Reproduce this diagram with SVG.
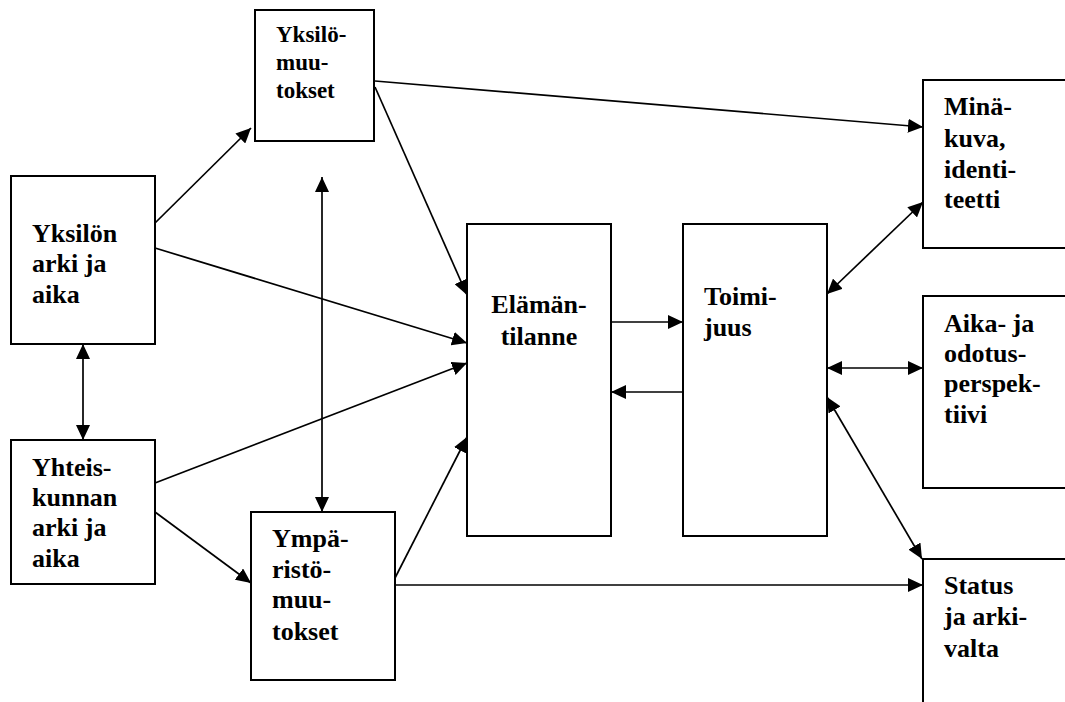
<svg xmlns="http://www.w3.org/2000/svg" width="1065" height="702" viewBox="0 0 1065 702">
<style>
.box{fill:#fff;stroke:#000;stroke-width:2}
.t{font-family:"Liberation Serif","Times New Roman",serif;font-weight:bold;font-size:26px;fill:#000}
.ts{font-size:23px}
.c{stroke:#000;stroke-width:1.7;fill:none}
.a{marker-end:url(#ah)}
.d{marker-start:url(#ah);marker-end:url(#ah)}
</style>
<defs>
<marker id="ah" viewBox="0 0 15 14" refX="15" refY="7" markerWidth="15" markerHeight="14" markerUnits="userSpaceOnUse" orient="auto-start-reverse">
<path d="M0,0 L15,7 L0,14 z" fill="#000"/>
</marker>
</defs>
<rect width="1065" height="702" fill="#fff"/>
<g id="yksilomuutokset">
<rect class="box" x="255" y="10" width="119" height="131"/>
<text class="t ts" x="276"><tspan x="276" y="42">Yksilö-</tspan><tspan x="276" y="70">muu-</tspan><tspan x="276" y="98">tokset</tspan></text>
</g>
<g id="yksilon">
<rect class="box" x="11" y="176" width="144" height="168"/>
<text class="t"><tspan x="32" y="242">Yksilön</tspan><tspan x="32" y="272">arki ja</tspan><tspan x="32" y="303">aika</tspan></text>
</g>
<g id="yhteiskunnan">
<rect class="box" x="11" y="440" width="144" height="144"/>
<text class="t"><tspan x="32" y="476">Yhteis-</tspan><tspan x="32" y="506">kunnan</tspan><tspan x="32" y="536">arki ja</tspan><tspan x="32" y="567">aika</tspan></text>
</g>
<g id="ymparisto">
<rect class="box" x="251" y="512" width="144" height="168"/>
<text class="t"><tspan x="272" y="547">Ympä-</tspan><tspan x="272" y="578">ristö-</tspan><tspan x="272" y="608">muu-</tspan><tspan x="272" y="640">tokset</tspan></text>
</g>
<g id="elamantilanne">
<rect class="box" x="467" y="224" width="144" height="312"/>
<text class="t" text-anchor="middle"><tspan x="539" y="313">Elämän-</tspan><tspan x="539" y="345">tilanne</tspan></text>
</g>
<g id="toimijuus">
<rect class="box" x="683" y="224" width="144" height="312"/>
<text class="t"><tspan x="704" y="305">Toimi-</tspan><tspan x="704" y="336">juus</tspan></text>
</g>
<g id="minakuva">
<path class="box" d="M1066,80 H923 V248 H1066"/>
<text class="t"><tspan x="944" y="115">Minä-</tspan><tspan x="944" y="147">kuva,</tspan><tspan x="944" y="178">identi-</tspan><tspan x="944" y="208">teetti</tspan></text>
</g>
<g id="aika">
<path class="box" d="M1066,296 H923 V488 H1066"/>
<text class="t"><tspan x="944" y="332">Aika- ja</tspan><tspan x="944" y="362">odotus-</tspan><tspan x="944" y="392">perspek-</tspan><tspan x="944" y="423">tiivi</tspan></text>
</g>
<g id="status">
<path class="box" d="M1066,559 H923 V703"/>
<text class="t"><tspan x="944" y="594">Status</tspan><tspan x="944" y="625">ja arki-</tspan><tspan x="944" y="657">valta</tspan></text>
</g>
<g id="connectors">
<line class="c a" x1="155" y1="223" x2="251" y2="128"/>
<line class="c a" x1="155" y1="248" x2="467" y2="343"/>
<line class="c a" x1="375" y1="87" x2="467" y2="295"/>
<line class="c a" x1="375" y1="81" x2="923" y2="127"/>
<line class="c d" x1="322" y1="177" x2="322" y2="512"/>
<line class="c d" x1="83" y1="344" x2="83" y2="440"/>
<line class="c a" x1="155" y1="483" x2="467" y2="363"/>
<line class="c a" x1="155" y1="512" x2="251" y2="583"/>
<line class="c a" x1="395" y1="578" x2="467" y2="437"/>
<line class="c a" x1="395" y1="585" x2="923" y2="585"/>
<line class="c a" x1="611" y1="322" x2="683" y2="322"/>
<line class="c a" x1="683" y1="392" x2="611" y2="392"/>
<line class="c d" x1="827" y1="294" x2="923" y2="202"/>
<line class="c d" x1="827" y1="368" x2="923" y2="368"/>
<line class="c d" x1="827" y1="397" x2="922" y2="559"/>
</g>
</svg>
